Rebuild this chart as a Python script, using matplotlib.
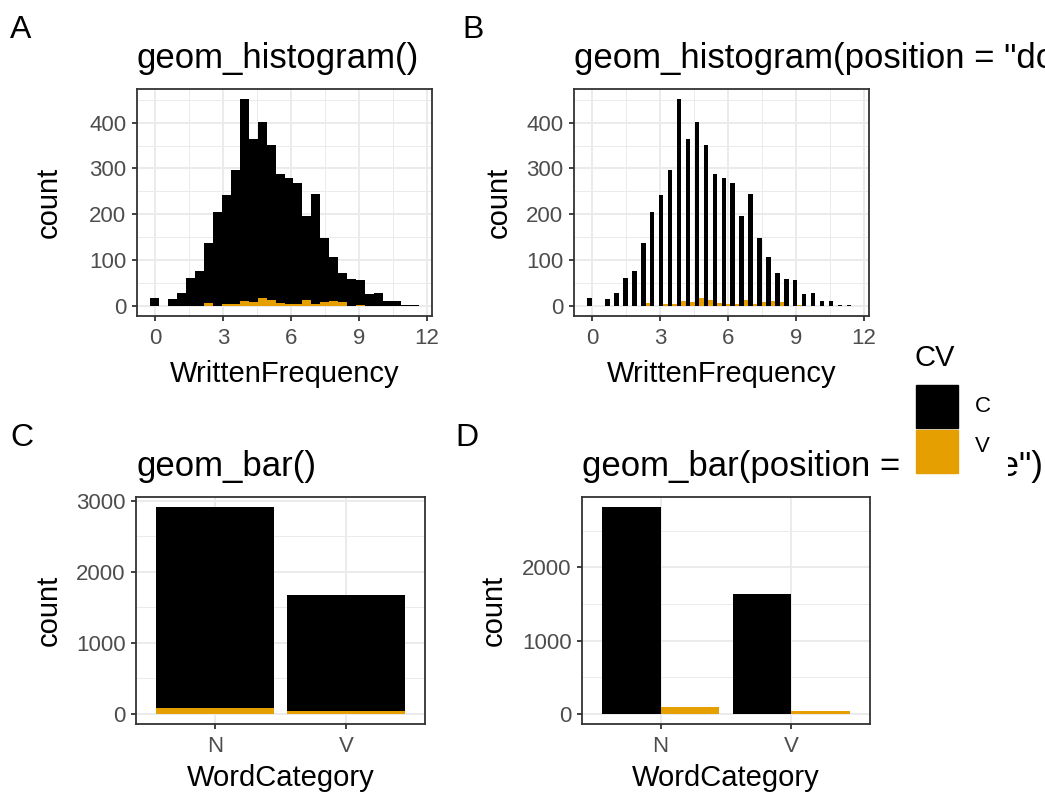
import matplotlib
matplotlib.use('Agg')
import matplotlib.pyplot as plt
from matplotlib.patches import Rectangle
import numpy as np

plt.rcParams['font.family'] = ['Liberation Sans', 'DejaVu Sans']

# histogram data (30 bins, ggplot default)
freq_min = 0.0
freq_max = 11.45
hist_c = [17, 0, 14, 28, 61, 75, 138, 204, 241, 297, 451, 365, 401, 351, 288,
          278, 269, 195, 245, 147, 106, 71, 58, 56, 25, 28, 10, 10, 1, 1]
hist_v = [0, 0, 0, 0, 0, 0, 6, 0, 4, 4, 10, 8, 17, 12, 6,
          4, 4, 12, 4, 8, 10, 8, 0, 2, 0, 0, 0, 0, 0, 0]

# bar data
categories = ['N', 'V']
bar_c = [2820, 1637]
bar_v = [86, 35]

col_c = 'black'
col_v = '#E69F00'
grid_col = '#EBEBEB'
tick_col = '#4D4D4D'

W, H = 1045, 798
fig = plt.figure(figsize=(W / 100, H / 100), dpi=100)


def px_axes(x0, y0, x1, y1):
    ax = fig.add_axes([x0 / W, 1 - y1 / H, (x1 - x0) / W, (y1 - y0) / H])
    ax.px = (x0, y0, x1, y1)
    return ax


def style(ax, title, xlabel, ylab_x, xlab_y):
    x0, y0, x1, y1 = ax.px
    ax.set_facecolor('white')
    for s in ax.spines.values():
        s.set_color('#333333')
        s.set_linewidth(1.3)
    ax.grid(True, which='major', color=grid_col, linewidth=1.4, zorder=0)
    ax.grid(True, which='minor', color=grid_col, linewidth=0.7, zorder=0)
    ax.set_axisbelow(True)
    ax.tick_params(which='major', length=3.6, width=1.3, color='#333333',
                   labelsize=16, labelcolor=tick_col)
    ax.tick_params(axis='x', which='major', pad=5)
    ax.tick_params(axis='y', which='major', pad=4)
    ax.tick_params(which='minor', length=0)
    ax.set_title(title, loc='left', fontsize=25, pad=15)
    ax.set_xlabel(xlabel, fontsize=21)
    ax.set_ylabel('count', fontsize=21)
    ax.yaxis.label.set_va('center')
    ax.yaxis.set_label_coords((ylab_x - x0) / (x1 - x0), 0.5)
    ax.xaxis.label.set_va('center')
    ax.xaxis.set_label_coords(0.5, (y1 - xlab_y) / (y1 - y0))


n_bins = len(hist_c)
bw = (freq_max - freq_min) / (n_bins - 1)
centers = freq_min + bw * np.arange(n_bins)
lo, hi = centers[0] - bw / 2, centers[-1] + bw / 2
xpad = (hi - lo) * 0.05

# A: geom_histogram()
axA = px_axes(137, 89, 432, 316)
axA.bar(centers, hist_c, width=bw, color=col_c, zorder=2)
axA.bar(centers, hist_v, width=bw, color=col_v, zorder=3)
axA.set_xlim(lo - xpad, hi + xpad)
axA.set_ylim(-max(hist_c) * 0.05, max(hist_c) * 1.05)
axA.set_xticks([0, 3, 6, 9, 12])
axA.set_xticks([1.5, 4.5, 7.5, 10.5], minor=True)
axA.set_yticks([0, 100, 200, 300, 400])
axA.set_yticks([50, 150, 250, 350, 450], minor=True)
style(axA, 'geom_histogram()', 'WrittenFrequency', 49, 374)

# B: dodge
axB = px_axes(574, 89, 869, 316)
axB.bar(centers - bw / 4, hist_c, width=bw / 2, color=col_c, zorder=2)
axB.bar(centers + bw / 4, hist_v, width=bw / 2, color=col_v, zorder=3)
axB.set_xlim(lo - xpad, hi + xpad)
axB.set_ylim(-max(hist_c) * 0.05, max(hist_c) * 1.05)
axB.set_xticks([0, 3, 6, 9, 12])
axB.set_xticks([1.5, 4.5, 7.5, 10.5], minor=True)
axB.set_yticks([0, 100, 200, 300, 400])
axB.set_yticks([50, 150, 250, 350, 450], minor=True)
style(axB, 'geom_histogram(position = "dodge")', 'WrittenFrequency', 499, 374)

# C: geom_bar() stacked
xs = np.arange(1, len(categories) + 1)
totals = [c + v for c, v in zip(bar_c, bar_v)]
axC = px_axes(136, 497, 425, 724)
axC.bar(xs, bar_v, width=0.9, color=col_v, zorder=2)
axC.bar(xs, bar_c, bottom=bar_v, width=0.9, color=col_c, zorder=2)
axC.set_xlim(0.4, 2.6)
axC.set_ylim(-max(totals) * 0.05, max(totals) * 1.05)
axC.set_xticks(xs)
axC.set_xticklabels(categories)
axC.set_yticks([0, 1000, 2000, 3000])
axC.set_yticks([500, 1500, 2500], minor=True)
style(axC, 'geom_bar()', 'WordCategory', 49, 778)

# D: geom_bar dodge
axD = px_axes(582, 497, 870, 724)
axD.bar(xs - 0.225, bar_c, width=0.45, color=col_c, zorder=2)
axD.bar(xs + 0.225, bar_v, width=0.45, color=col_v, zorder=2)
axD.set_xlim(0.4, 2.6)
axD.set_ylim(-max(bar_c) * 0.05, max(bar_c) * 1.05)
axD.set_xticks(xs)
axD.set_xticklabels(categories)
axD.set_yticks([0, 1000, 2000])
axD.set_yticks([500, 1500, 2500], minor=True)
style(axD, 'geom_bar(position = "dodge")', 'WordCategory', 494, 778)

# panel tags
for tag, x, y in [('A', 10, 38), ('B', 462, 38), ('C', 10, 446), ('D', 455, 446)]:
    fig.text(x / W, 1 - y / H, tag, fontsize=23, ha='left', va='baseline')

# legend drawn over panel D title, like the reference
axL = px_axes(905, 335, 1008, 492)
axL.set_xlim(905, 1008)
axL.set_ylim(492, 335)
axL.axis('off')
axL.add_patch(Rectangle((905, 335), 103, 157, color='white', zorder=0))
axL.text(915, 366, 'CV', fontsize=21, va='baseline')
axL.add_patch(Rectangle((916, 385), 42, 43, color=col_c))
axL.add_patch(Rectangle((916, 430), 42, 43, color=col_v))
axL.text(975, 406, 'C', fontsize=16, va='center')
axL.text(975, 447, 'V', fontsize=16, va='center')

fig.savefig('out.png', dpi=100)
